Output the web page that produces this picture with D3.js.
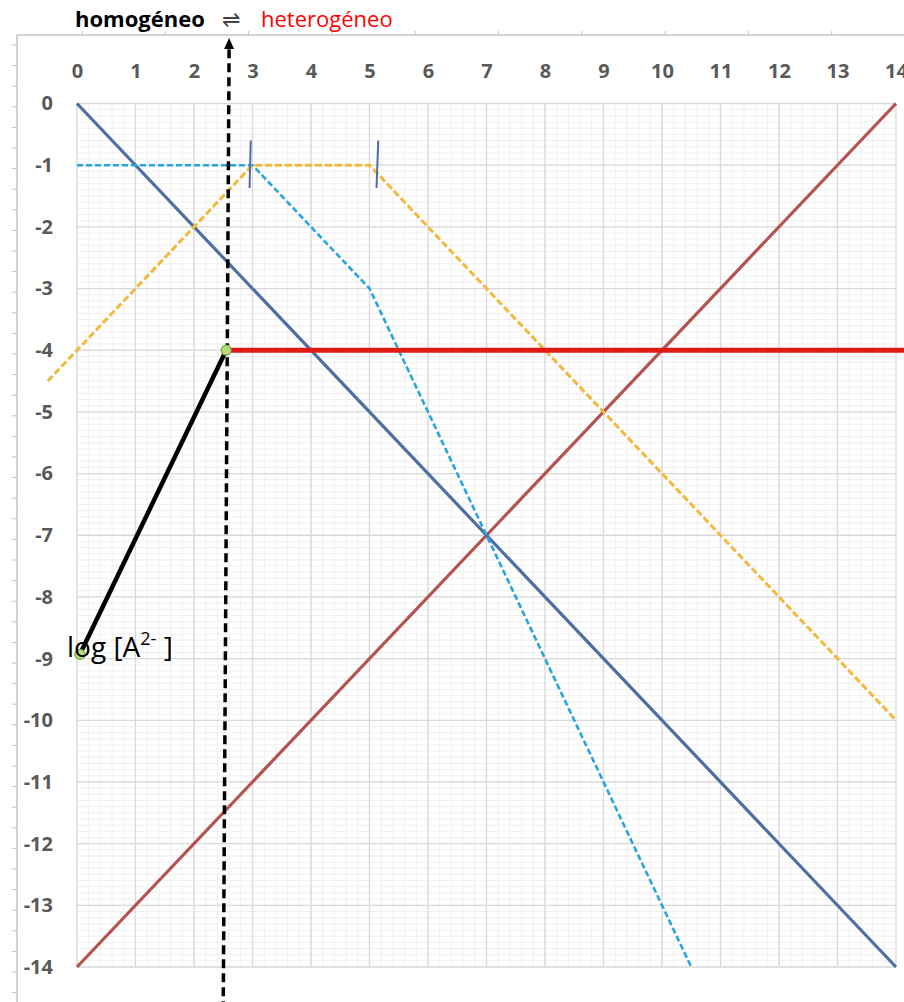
<!DOCTYPE html>
<html>
<head>
<meta charset="utf-8">
<script src="https://cdn.jsdelivr.net/npm/d3@7"></script>
<style>
  body { margin: 0; background: #fff; }
  svg { display: block; font-family: "Open Sans", sans-serif; }
</style>
</head>
<body>
<div id="chart"></div>
<script>
// tick values
var xTickValues = d3.range(0, 15);
var yTickValues = d3.range(0, -15, -1);

// series (pH on x, log C on y)
var blueLine   = [[0, 0], [14, -14]];
var brownLine  = [[0, -14], [14, 0]];
var cyanLine   = [[0, -1], [3, -1], [5, -3], [10.5, -14]];
var yellowLine = [[-0.5, -4.5], [3, -1], [5, -1], [14, -10]];
var blackLine  = [[0.05, -8.93], [2.55, -4]];
var redLine    = [[2.55, -4], [14.3, -4]];
var greenDots  = [[0.05, -8.93], [2.55, -4]];
var markTicks  = [[[2.97, -0.6], [2.95, -1.37]], [[5.15, -0.6], [5.12, -1.37]]];
var arrowLine  = [[2.6, 0.88], [2.5, -14.6]];

var W = 904, H = 1002;

var svg = d3.select("#chart").append("svg")
  .attr("width", W)
  .attr("height", H);

var x = d3.scaleLinear().domain([0, 14]).range([77, 896]);
var y = d3.scaleLinear().domain([0, -14]).range([103.5, 967]);

// outer frame (the sheet behind the pasted chart)
var outerX = d3.scaleLinear().domain([0, 10]).range([82, 915]);
var outerY = d3.scaleLinear().domain([0, 50]).range([45, 1075]);
svg.append("line")
  .attr("x1", 17).attr("x2", W).attr("y1", 35).attr("y2", 35)
  .attr("stroke", "#c4c4c4").attr("stroke-width", 1.5);
svg.append("line")
  .attr("x1", 17).attr("x2", 17).attr("y1", 35).attr("y2", H)
  .attr("stroke", "#c4c4c4").attr("stroke-width", 1.5);
svg.append("g").selectAll("line")
  .data(d3.range(0, 11))
  .enter().append("line")
  .attr("x1", function (d) { return outerX(d); })
  .attr("x2", function (d) { return outerX(d); })
  .attr("y1", 31).attr("y2", 35)
  .attr("stroke", "#c4c4c4");
svg.append("g").selectAll("line")
  .data(d3.range(0, 50))
  .enter().append("line")
  .attr("x1", 12).attr("x2", 17)
  .attr("y1", function (d) { return outerY(d); })
  .attr("y2", function (d) { return outerY(d); })
  .attr("stroke", "#c4c4c4");

// grid
var grid = svg.append("g");
grid.selectAll(".vmin")
  .data(d3.range(0, 70).map(function (i) { return i / 5; }))
  .enter().append("line")
  .attr("x1", function (d) { return x(d); })
  .attr("x2", function (d) { return x(d); })
  .attr("y1", y(0)).attr("y2", y(-14))
  .attr("stroke", "#f0f0f0").attr("stroke-width", 1);
grid.selectAll(".hmin")
  .data(d3.range(0, 141).map(function (i) { return -i / 10; }))
  .enter().append("line")
  .attr("x1", x(0)).attr("x2", x(14))
  .attr("y1", function (d) { return y(d); })
  .attr("y2", function (d) { return y(d); })
  .attr("stroke", "#f0f0f0").attr("stroke-width", 1);
grid.selectAll(".vmaj")
  .data(xTickValues)
  .enter().append("line")
  .attr("x1", function (d) { return x(d); })
  .attr("x2", function (d) { return x(d); })
  .attr("y1", y(0)).attr("y2", y(-14))
  .attr("stroke", "#d9d9d9").attr("stroke-width", 1.3);
grid.selectAll(".hmaj")
  .data(yTickValues)
  .enter().append("line")
  .attr("x1", x(0)).attr("x2", x(14))
  .attr("y1", function (d) { return y(d); })
  .attr("y2", function (d) { return y(d); })
  .attr("stroke", "#d9d9d9").attr("stroke-width", 1.3);

// axes labels
var xAxis = svg.append("g")
  .attr("transform", "translate(0,78)")
  .call(d3.axisTop(x).tickValues(xTickValues).tickSize(0).tickPadding(0).tickFormat(d3.format("d")));
var yAxis = svg.append("g")
  .attr("transform", "translate(53,0)")
  .call(d3.axisLeft(y).tickValues(yTickValues).tickSize(0).tickPadding(0).tickFormat(function (d) { return d === 0 ? "0" : "-" + Math.abs(d); }));
[xAxis, yAxis].forEach(function (a) {
  a.select(".domain").remove();
  a.selectAll("text")
    .attr("fill", "#595959")
    .style("font-size", "20px")
    .style("font-weight", "bold")
    .style("font-family", "'Open Sans', sans-serif");
});

var line = d3.line()
  .x(function (d) { return x(d[0]); })
  .y(function (d) { return y(d[1]); });

function drawPath(data, color, width, dash) {
  svg.append("path")
    .datum(data)
    .attr("d", line)
    .attr("fill", "none")
    .attr("stroke", color)
    .attr("stroke-width", width)
    .attr("stroke-dasharray", dash || null);
}

drawPath(brownLine, "#b4524f", 3.2);
drawPath(blueLine, "#4e6ea4", 3.2);
drawPath(cyanLine, "#27a6dc", 2.6, "6,3");
drawPath(yellowLine, "#f2ba3c", 3, "7,3");
drawPath(redLine, "#e01a14", 5);
drawPath(blackLine, "#000", 4.5);

markTicks.forEach(function (t) {
  drawPath(t, "#4e6ea4", 2);
});

// vertical dashed arrow
drawPath(arrowLine, "#000", 3.5, "9,5");
var tip = [x(2.6), 38];
svg.append("path")
  .attr("d", "M" + tip[0] + "," + tip[1] +
    "L" + (tip[0] - 5) + "," + (tip[1] + 11) +
    "L" + (tip[0] + 5) + "," + (tip[1] + 11) + "Z")
  .attr("fill", "#000");

svg.append("g").selectAll("circle")
  .data(greenDots)
  .enter().append("circle")
  .attr("cx", function (d) { return x(d[0]); })
  .attr("cy", function (d) { return y(d[1]); })
  .attr("r", 5)
  .attr("fill", "#b5dc7a")
  .attr("stroke", "#7aa64a")
  .attr("stroke-width", 1.2);

// title
svg.append("text")
  .attr("x", 75).attr("y", 27)
  .style("font-size", "22px")
  .attr("font-weight", "bold")
  .attr("fill", "#000")
  .text("homogéneo");
svg.append("text")
  .attr("x", 231).attr("y", 27)
  .attr("text-anchor", "middle")
  .style("font-size", "22px")
  .attr("fill", "#444")
  .text("\u21CC");
svg.append("text")
  .attr("x", 261).attr("y", 27)
  .style("font-size", "22px")
  .attr("fill", "#ff0000")
  .text("heterogéneo");

// species label
var lab = svg.append("text")
  .attr("x", 67).attr("y", 657)
  .style("font-size", "28px")
  .attr("fill", "#000");
lab.append("tspan").text("log [A");
lab.append("tspan").text("2-").attr("dy", -12).style("font-size", "18px");
lab.append("tspan").text(" ]").attr("dy", 12);
</script>
</body>
</html>
